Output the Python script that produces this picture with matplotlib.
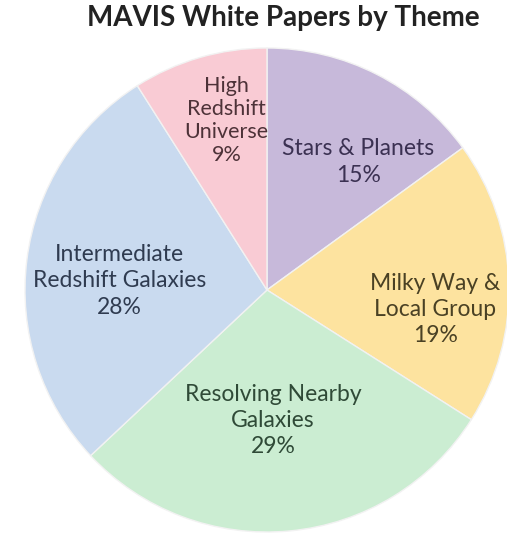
import numpy as np
import matplotlib.pyplot as plt

plt.rcParams['font.family'] = ['Lato', 'DejaVu Sans']

# White paper counts by science theme (percent of total)
themes = ["Stars & Planets", "Milky Way &\nLocal Group", "Resolving Nearby\nGalaxies",
          "Intermediate\nRedshift Galaxies", "High\nRedshift\nUniverse"]
shares = [15, 19, 29, 28, 9]

fills = ["#c7b9da", "#fde39f", "#cbedd2", "#c9daef", "#f9cbd4"]
inks = ["#3b3152", "#4a4124", "#2f4a37", "#2f3b50", "#4d3238"]

# label anchor (radius, angle in degrees), size and line spacing per wedge
label_pos = [(0.65, 54.6), (0.70, -6.5), (0.54, -87.3), (0.61, 176.5), (0.72, 103.5)]
label_size = [16.5, 16.5, 16.5, 16.5, 15.5]
label_gap = [1.35, 1.3, 1.3, 1.35, 1.2]

fig = plt.figure(figsize=(5.07, 5.37), dpi=100)
cx, cy, r = 267, 290, 242
ax = fig.add_axes([(cx - r) / 507, (537 - cy - r) / 537, 2 * r / 507, 2 * r / 537])

ax.pie(shares, colors=fills, startangle=90, counterclock=False,
       wedgeprops=dict(edgecolor="#f2f2f2", linewidth=1.0))
ax.set_xlim(-1, 1)
ax.set_ylim(-1, 1)

for name, val, ink, (rad, ang), fs, gap in zip(themes, shares, inks, label_pos,
                                               label_size, label_gap):
    x = rad * np.cos(np.radians(ang))
    y = rad * np.sin(np.radians(ang))
    ax.text(x, y, f"{name}\n{val}%", ha="center", va="center", color=ink,
            fontsize=fs, linespacing=gap)

fig.text(0.558, 0.966, "MAVIS White Papers by Theme", ha="center", va="center",
         fontsize=20, fontweight="bold", color="#222222")

fig.savefig("out.png", dpi=100)
